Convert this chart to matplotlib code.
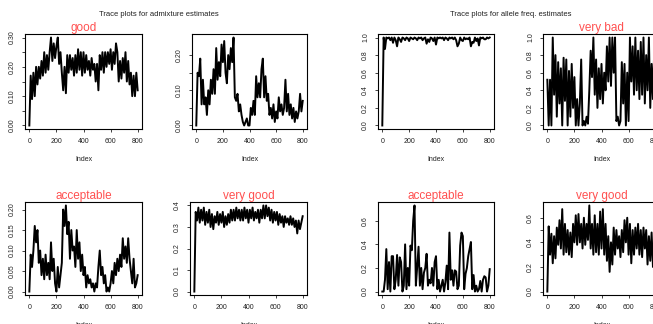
import numpy as np
import matplotlib
matplotlib.use('Agg')
import matplotlib.pyplot as plt

plt.rcParams['font.family'] = ['Liberation Sans', 'DejaVu Sans']

# trace values, every 10 iterations (index 0..800)
adm_good = [0.00, 0.17, 0.09, 0.18, 0.10, 0.20, 0.14, 0.20, 0.16, 0.22, 0.17, 0.25, 0.18, 0.24, 0.19, 0.25,
            0.30, 0.22, 0.28, 0.23, 0.27, 0.30, 0.21, 0.25, 0.18, 0.12, 0.20, 0.11, 0.24, 0.18, 0.24, 0.19,
            0.23, 0.17, 0.24, 0.18, 0.26, 0.19, 0.25, 0.17, 0.25, 0.18, 0.24, 0.19, 0.22, 0.17, 0.23, 0.19,
            0.21, 0.15, 0.21, 0.12, 0.24, 0.19, 0.25, 0.18, 0.25, 0.20, 0.25, 0.21, 0.26, 0.19, 0.25, 0.21,
            0.28, 0.25, 0.15, 0.22, 0.16, 0.23, 0.18, 0.25, 0.15, 0.22, 0.14, 0.18, 0.10, 0.17, 0.10, 0.18, 0.12]
adm_other = [0.00, 0.15, 0.14, 0.19, 0.06, 0.13, 0.06, 0.08, 0.03, 0.10, 0.06, 0.13, 0.09, 0.16, 0.09, 0.22,
             0.13, 0.18, 0.14, 0.23, 0.18, 0.24, 0.15, 0.12, 0.20, 0.16, 0.22, 0.18, 0.25, 0.08, 0.07, 0.09,
             0.04, 0.06, 0.03, 0.01, 0.00, 0.01, 0.02, 0.00, 0.00, 0.05, 0.03, 0.07, 0.03, 0.14, 0.08, 0.12,
             0.08, 0.16, 0.19, 0.08, 0.14, 0.07, 0.09, 0.03, 0.05, 0.02, 0.06, 0.01, 0.04, 0.02, 0.08, 0.04,
             0.06, 0.03, 0.05, 0.13, 0.04, 0.09, 0.03, 0.06, 0.02, 0.05, 0.01, 0.04, 0.02, 0.04, 0.09, 0.04, 0.07]
adm_accept = [0.00, 0.09, 0.06, 0.10, 0.16, 0.12, 0.15, 0.07, 0.10, 0.04, 0.08, 0.03, 0.09, 0.04, 0.07, 0.03,
              0.12, 0.05, 0.08, 0.02, 0.00, 0.06, 0.01, 0.04, 0.07, 0.20, 0.16, 0.21, 0.14, 0.17, 0.08, 0.15,
              0.10, 0.11, 0.06, 0.15, 0.08, 0.12, 0.05, 0.09, 0.04, 0.06, 0.01, 0.04, 0.02, 0.03, 0.01, 0.02,
              0.00, 0.02, 0.01, 0.06, 0.10, 0.04, 0.06, 0.02, 0.04, 0.00, 0.01, 0.00, 0.02, 0.05, 0.02, 0.07,
              0.04, 0.08, 0.05, 0.09, 0.06, 0.13, 0.08, 0.11, 0.07, 0.13, 0.08, 0.05, 0.02, 0.08, 0.01, 0.02, 0.04]
adm_vgood = [0.00, 0.37, 0.33, 0.39, 0.32, 0.38, 0.33, 0.39, 0.31, 0.37, 0.32, 0.38, 0.30, 0.36, 0.29, 0.35,
             0.32, 0.37, 0.31, 0.36, 0.32, 0.37, 0.30, 0.35, 0.31, 0.36, 0.32, 0.38, 0.33, 0.38, 0.33, 0.39,
             0.34, 0.38, 0.33, 0.38, 0.33, 0.39, 0.34, 0.38, 0.32, 0.38, 0.34, 0.39, 0.33, 0.37, 0.34, 0.38,
             0.32, 0.38, 0.34, 0.40, 0.34, 0.40, 0.35, 0.39, 0.33, 0.38, 0.32, 0.37, 0.33, 0.37, 0.31, 0.36,
             0.32, 0.35, 0.30, 0.35, 0.32, 0.34, 0.31, 0.35, 0.31, 0.34, 0.30, 0.33, 0.27, 0.33, 0.29, 0.32, 0.35]

frq_other = [0.00, 1.00, 0.87, 1.00, 0.99, 1.00, 0.97, 1.00, 0.94, 1.00, 0.97, 0.90, 1.00, 0.98, 0.95, 1.00,
             0.99, 0.97, 1.00, 0.99, 0.96, 1.00, 0.99, 0.98, 1.00, 0.99, 0.97, 1.00, 0.99, 1.00, 0.97, 0.99,
             1.00, 0.93, 0.98, 0.95, 1.00, 0.99, 0.96, 1.00, 0.92, 1.00, 0.99, 1.00, 0.99, 1.00, 0.97, 1.00,
             0.99, 0.97, 1.00, 0.99, 1.00, 0.98, 1.00, 0.97, 0.90, 0.93, 1.00, 0.97, 0.96, 1.00, 0.98, 0.99,
             0.98, 1.00, 0.90, 0.95, 0.94, 1.00, 0.96, 0.99, 0.91, 1.00, 0.99, 1.00, 0.98, 0.98, 1.00, 0.99, 1.00]
frq_vbad = [0.52, 0.00, 0.52, 0.00, 1.00, 0.35, 0.80, 0.10, 0.72, 0.25, 0.65, 0.00, 0.77, 0.28, 0.75, 0.00,
            0.62, 0.10, 0.70, 0.20, 0.55, 0.00, 0.30, 0.00, 0.25, 0.75, 0.00, 0.05, 0.00, 0.10, 0.02, 0.40,
            0.85, 0.55, 1.00, 0.35, 0.75, 0.20, 0.65, 0.30, 0.70, 0.25, 0.60, 0.40, 0.90, 0.50, 1.00, 0.45,
            1.00, 0.60, 1.00, 0.05, 0.10, 0.00, 0.05, 0.72, 0.25, 0.70, 0.00, 0.60, 0.05, 1.00, 0.50, 0.90,
            0.35, 1.00, 0.40, 0.85, 0.30, 0.95, 0.35, 1.00, 0.25, 0.80, 0.40, 1.00, 0.20, 0.70, 0.30, 0.90, 0.45]
frq_accept = [0.00, 0.00, 0.10, 0.36, 0.02, 0.25, 0.00, 0.30, 0.30, 0.02, 0.10, 0.31, 0.05, 0.29, 0.25, 0.00,
              0.05, 0.40, 0.02, 0.20, 0.05, 0.39, 0.35, 0.60, 0.73, 0.05, 0.21, 0.38, 0.05, 0.20, 0.02, 0.16,
              0.20, 0.32, 0.05, 0.10, 0.07, 0.20, 0.05, 0.25, 0.30, 0.02, 0.10, 0.00, 0.05, 0.10, 0.00, 0.08,
              0.22, 0.02, 0.50, 0.10, 0.18, 0.05, 0.18, 0.17, 0.02, 0.05, 0.39, 0.50, 0.47, 0.02, 0.15, 0.20,
              0.30, 0.36, 0.42, 0.02, 0.14, 0.00, 0.05, 0.00, 0.02, 0.09, 0.00, 0.10, 0.13, 0.12, 0.00, 0.05, 0.19]
frq_vgood = [0.00, 0.53, 0.30, 0.47, 0.23, 0.45, 0.27, 0.52, 0.38, 0.58, 0.35, 0.67, 0.30, 0.55, 0.32, 0.50,
             0.30, 0.48, 0.28, 0.55, 0.40, 0.62, 0.38, 0.63, 0.40, 0.55, 0.35, 0.60, 0.38, 0.55, 0.42, 0.70,
             0.35, 0.55, 0.30, 0.62, 0.32, 0.55, 0.30, 0.65, 0.35, 0.67, 0.30, 0.55, 0.25, 0.45, 0.16, 0.40,
             0.22, 0.52, 0.30, 0.50, 0.35, 0.45, 0.28, 0.50, 0.32, 0.58, 0.40, 0.60, 0.30, 0.55, 0.23, 0.50,
             0.30, 0.52, 0.35, 0.55, 0.30, 0.50, 0.28, 0.52, 0.35, 0.50, 0.22, 0.45, 0.25, 0.48, 0.20, 0.44, 0.35]

x_ticks = [0, 200, 400, 600, 800]
titles = ["good", "", "acceptable", "very good", "", "very bad", "acceptable", "very good"]
sup_titles = ["Trace plots for admixture estimates", "Trace plots for allele freq. estimates"]

# y ticks and which of them carry a label
y_ticks = [
    [0.00, 0.05, 0.10, 0.15, 0.20, 0.25, 0.30],
    [0.00, 0.05, 0.10, 0.15, 0.20],
    [0.00, 0.05, 0.10, 0.15, 0.20],
    [0.0, 0.1, 0.2, 0.3, 0.4],
    [0.0, 0.2, 0.4, 0.6, 0.8, 1.0],
    [0.0, 0.2, 0.4, 0.6, 0.8, 1.0],
    [0.0, 0.2, 0.4, 0.6],
    [0.0, 0.1, 0.2, 0.3, 0.4, 0.5, 0.6],
]
y_labels = [
    ["0.00", "", "0.10", "", "0.20", "", "0.30"],
    ["0.00", "", "0.10", "", "0.20"],
    ["0.00", "0.05", "0.10", "0.15", "0.20"],
    ["0.0", "0.1", "0.2", "0.3", "0.4"],
    ["0.0", "0.2", "0.4", "0.6", "0.8", "1.0"],
    ["0.0", "0.2", "0.4", "0.6", "0.8", "1.0"],
    ["0.0", "0.2", "0.4", "0.6"],
    ["0.0", "", "0.2", "", "0.4", "", "0.6"],
]
series = [adm_good, adm_other, adm_accept, adm_vgood, frq_other, frq_vbad, frq_accept, frq_vgood]

W, H = 653, 324
# box positions in pixels: left, top, right, bottom
boxes = [
    (25, 34, 142, 129), (192, 34, 307, 129),
    (25, 202, 142, 295), (190, 202, 307, 295),
    (378, 34, 494, 129), (543, 34, 660, 129),
    (378, 202, 494, 295), (543, 202, 660, 295),
]

fig = plt.figure(figsize=(W / 100, H / 100), dpi=100)

for i in range(8):
    l, t, r, b = boxes[i]
    ax = fig.add_axes([l / W, (H - b) / H, (r - l) / W, (b - t) / H])
    y = np.array(series[i])
    x = np.linspace(0, 800, len(y))
    ax.plot(x, y, color='black', lw=1.4)
    ax.margins(x=0.04, y=0.04)
    ax.set_xticks(x_ticks)
    ax.set_xticklabels([str(v) for v in x_ticks])
    ax.set_yticks(y_ticks[i])
    ax.set_yticklabels(y_labels[i], rotation=90, va='center')
    ax.tick_params(direction='out', length=2.5, width=0.6, labelsize=5, colors='#222222')
    ax.tick_params(axis='x', pad=4)
    ax.tick_params(axis='y', pad=4)
    for s in ax.spines.values():
        s.set_linewidth(0.8)
    ax.set_xlabel("Index", fontsize=5, color='#222222', labelpad=8)
    if titles[i]:
        ax.set_title(titles[i], color='#ff5050', fontsize=8.5, pad=2)

fig.text(159 / W, 1 - 15 / H, sup_titles[0], ha='center', va='center', fontsize=5.5, color='#222222')
fig.text(511 / W, 1 - 15 / H, sup_titles[1], ha='center', va='center', fontsize=5.5, color='#222222')

fig.savefig("out.png", dpi=100)
